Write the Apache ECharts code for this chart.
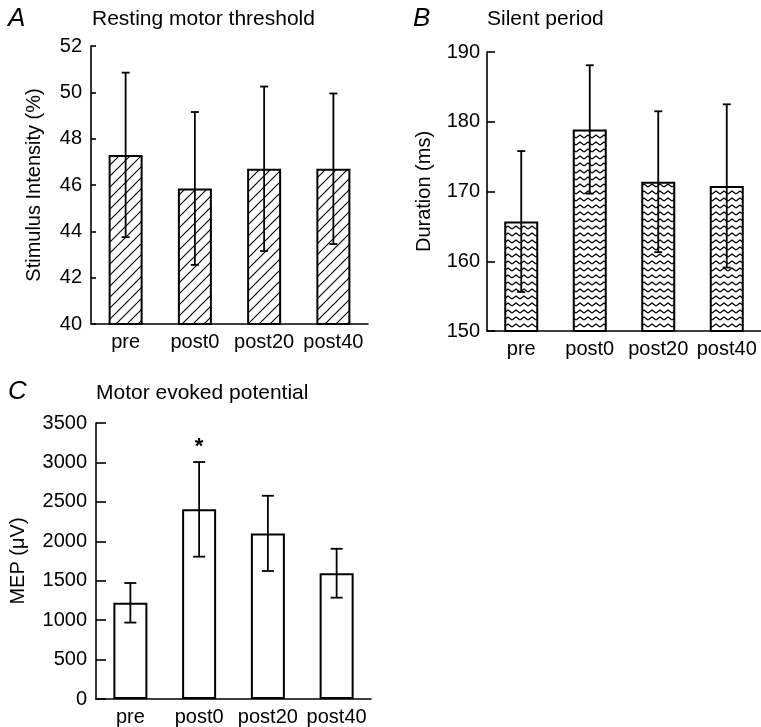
<!DOCTYPE html>
<html>
<head>
<meta charset="utf-8">
<script src="https://cdn.jsdelivr.net/npm/echarts@6/dist/echarts.min.js"></script>
<style>
  html, body { margin: 0; padding: 0; background: #fff; }
  #main { width: 761px; height: 727px; }
</style>
</head>
<body>
<div id="main"></div>
<script>
// data
var categories = ['pre', 'post0', 'post20', 'post40'];

// A: resting motor threshold (%)
var rmtMean = [47.3, 45.85, 46.7, 46.7];
var rmtSd = [3.55, 3.3, 3.55, 3.25];

// B: silent period (ms)
var spMean = [165.7, 178.9, 171.4, 170.8];
var spSd = [10.1, 9.2, 10.1, 11.7];

// C: motor evoked potential (µV)
var mepMean = [1220, 2405, 2100, 1595];
var mepSd = [251, 600, 477, 310];
var mepSig = [false, true, false, false];

var FONT = '"Liberation Sans", Arial, sans-serif';

// fill patterns
function hatchPattern() {
  var c = document.createElement('canvas');
  c.width = 11; c.height = 11;
  var ctx = c.getContext('2d');
  ctx.strokeStyle = '#000';
  ctx.lineWidth = 1.1;
  ctx.beginPath();
  ctx.moveTo(-1, 12); ctx.lineTo(12, -1);
  ctx.moveTo(-2, 2); ctx.lineTo(2, -2);
  ctx.moveTo(9, 13); ctx.lineTo(13, 9);
  ctx.stroke();
  return c;
}
function zigzagPattern() {
  var c = document.createElement('canvas');
  c.width = 8; c.height = 7;
  var ctx = c.getContext('2d');
  ctx.strokeStyle = '#000';
  ctx.lineWidth = 1.4;
  ctx.beginPath();
  ctx.moveTo(0, 5); ctx.lineTo(4, 2); ctx.lineTo(8, 5);
  ctx.stroke();
  return c;
}

function errData(mean, sd) {
  return mean.map(function (m, i) { return [i, m - sd[i], m + sd[i]]; });
}

function errSeries(idx, mean, sd, capHalf, sig) {
  return {
    type: 'custom',
    xAxisIndex: idx,
    yAxisIndex: idx,
    z: 10,
    data: errData(mean, sd),
    renderItem: function (params, api) {
      var lo = api.coord([api.value(0), api.value(1)]);
      var hi = api.coord([api.value(0), api.value(2)]);
      var st = { stroke: '#000', lineWidth: 1.8 };
      var kids = [
        { type: 'line', shape: { x1: hi[0], y1: hi[1], x2: lo[0], y2: lo[1] }, style: st },
        { type: 'line', shape: { x1: hi[0] - capHalf, y1: hi[1], x2: hi[0] + capHalf, y2: hi[1] }, style: st },
        { type: 'line', shape: { x1: lo[0] - capHalf, y1: lo[1], x2: lo[0] + capHalf, y2: lo[1] }, style: st }
      ];
      if (sig && sig[params.dataIndex]) {
        kids.push({
          type: 'text',
          style: { text: '*', x: hi[0], y: hi[1] - 4, align: 'center', verticalAlign: 'bottom',
                   fill: '#000', font: 'bold 22px ' + FONT }
        });
      }
      return { type: 'group', children: kids };
    }
  };
}

function barSeries(idx, mean, fill) {
  return {
    type: 'bar',
    xAxisIndex: idx,
    yAxisIndex: idx,
    barWidth: 34,
    data: mean,
    itemStyle: { color: fill, borderColor: '#000', borderWidth: 2 },
    silent: true
  };
}

function xAx(idx) {
  return {
    gridIndex: idx,
    type: 'category',
    data: categories,
    axisLine: { lineStyle: { color: '#000', width: 1.6 } },
    axisTick: { show: false },
    axisLabel: { color: '#000', fontSize: 20, fontFamily: FONT, margin: 8, interval: 0 }
  };
}

function yAx(idx, name, min, max, interval, gap, tickLen, labelMargin) {
  return {
    gridIndex: idx,
    type: 'value',
    min: min, max: max, interval: interval,
    name: name,
    nameLocation: 'middle',
    nameGap: gap,
    nameTextStyle: { color: '#000', fontSize: 20, fontFamily: FONT },
    axisLine: { show: true, lineStyle: { color: '#000', width: 1.6 } },
    axisTick: { show: true, inside: true, length: tickLen, lineStyle: { color: '#000', width: 1.6 } },
    axisLabel: { color: '#000', fontSize: 20, fontFamily: FONT, margin: labelMargin,
                 formatter: function (v) { return String(v); } },
    splitLine: { show: false }
  };
}

function titleAt(text, left, top, italic, size) {
  return {
    text: text, left: left, top: top, padding: 0,
    textStyle: { color: '#000', fontWeight: 'normal', fontStyle: italic ? 'italic' : 'normal',
                 fontSize: size, fontFamily: FONT }
  };
}

var chart = echarts.init(document.getElementById('main'));
chart.setOption({
  backgroundColor: '#fff',
  animation: false,
  title: [
    titleAt('A', 8, 6, true, 26),
    titleAt('Resting motor threshold', 92, 9, false, 21),
    titleAt('B', 413, 6, true, 26),
    titleAt('Silent period', 487, 9, false, 21),
    titleAt('C', 8, 379, true, 26),
    titleAt('Motor evoked potential', 96, 383, false, 21)
  ],
  grid: [
    { left: 91, top: 46, width: 277, height: 278 },
    { left: 487, top: 52, width: 274, height: 279 },
    { left: 96, top: 423, width: 275, height: 277 }
  ],
  xAxis: [xAx(0), xAx(1), xAx(2)],
  yAxis: [
    yAx(0, 'Stimulus Intensity (%)', 40, 52, 2, 47, 5, 9),
    yAx(1, 'Duration (ms)', 150, 190, 10, 53, 8, 7),
    yAx(2, 'MEP (μV)', 0, 3500, 500, 68, 10, 9)
  ],
  series: [
    barSeries(0, rmtMean, { image: hatchPattern(), repeat: 'repeat' }),
    errSeries(0, rmtMean, rmtSd, 4),
    barSeries(1, spMean, { image: zigzagPattern(), repeat: 'repeat' }),
    errSeries(1, spMean, spSd, 4),
    barSeries(2, mepMean, '#fff'),
    errSeries(2, mepMean, mepSd, 6, mepSig)
  ]
});
</script>
</body>
</html>
